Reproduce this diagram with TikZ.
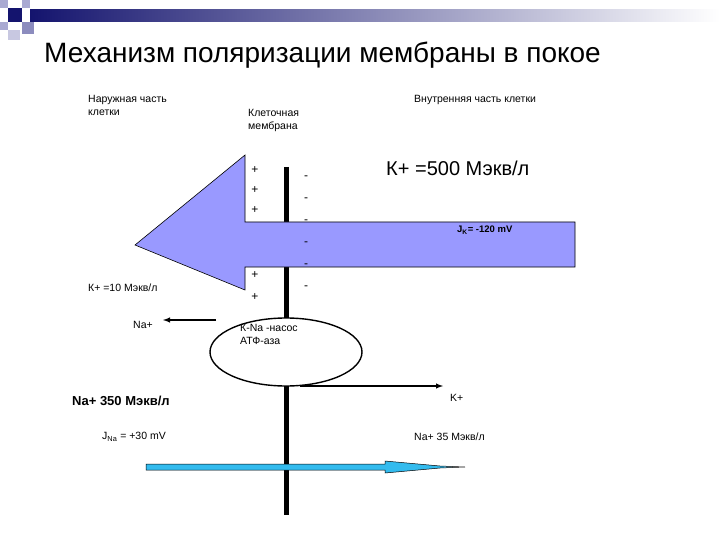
\documentclass[tikz,border=0pt]{standalone}
\usepackage{fontspec}
\setmainfont{Liberation Sans}
\usetikzlibrary{shapes.geometric}
\definecolor{navy}{RGB}{20,20,110}
\definecolor{sq1}{RGB}{170,170,210}
\definecolor{sq2}{RGB}{140,140,190}
\definecolor{sq3}{RGB}{200,200,225}
\definecolor{bigarr}{RGB}{153,153,255}
\definecolor{cyanarr}{RGB}{51,187,238}
\begin{document}
\begin{tikzpicture}[x=1pt,y=-1pt,
  lab/.style={anchor=west,inner sep=0pt,font=\fontsize{10.5}{13}\selectfont},
  pm/.style={inner sep=0pt,font=\fontsize{12}{12}\selectfont}]
\useasboundingbox (0,0) rectangle (720,540);
% decoration
\shade[left color=navy,right color=white] (30,10) rectangle (720,22);
\fill[navy] (8,8) rectangle (22,22);
\fill[sq1] (0,0) rectangle (8,8);
\fill[sq1] (22,0) rectangle (30,8);
\fill[sq1] (0,22) rectangle (8,30);
\fill[sq2] (22,22) rectangle (34,34);
\fill[sq3] (8,30) rectangle (20,40);
\node[font=\fontsize{28}{30}\selectfont,anchor=west,inner sep=0pt] (title) at (44,55) {Механизм поляризации мембраны в покое};
\node[lab,align=left,anchor=north west] (out) at (88,95) {Наружная часть\\клетки};
\node[lab,align=left,anchor=north west] (mem) at (248,109) {Клеточная\\мембрана};
\node[lab,anchor=north west] (in) at (414,95) {Внутренняя часть клетки};
% membrane
\coordinate (mt) at (286,167); \coordinate (mb) at (286,515);
\draw[line width=5pt] (mt) -- (mb);
% big arrow
\fill[bigarr] (575,222) -- (245,222) -- (245,155) -- (135,245) -- (245,290) -- (245,267) -- (575,267) -- cycle;
\draw[black,line width=0.6pt] (575,222) -- (245,222) -- (245,155) -- (135,245) -- (245,290) -- (245,267) -- (575,267) -- cycle;
\foreach \y/\n in {170/p1,190/p2,210/p3,275/p4,297/p5} \node[pm] (\n) at (255,\y) {+};
\foreach \y/\n in {178/m1,200/m2,222/m3,244/m4,266/m5,288/m6} \node[pm] (\n) at (306,\y) {-};
\node[font=\fontsize{20}{22}\selectfont,anchor=west,inner sep=0pt] (k500) at (386,168) {К+ =500 Мэкв/л};
\node[font=\bfseries\fontsize{9.5}{10}\selectfont,anchor=west,inner sep=0pt] (jk) at (457,230) {J\textsubscript{K}= -120 mV};
\node[lab] (k10) at (88,288) {К+ =10 Мэкв/л};
% pump
\node[draw,ellipse,line width=1.4pt,minimum width=152pt,minimum height=68pt,fill=white] (pump) at (286,352) {};
\node[lab,align=left,anchor=north west] (pt) at (240,324) {К-Na -насос\\АТФ-аза};
\node[lab] (na) at (133,325) {Na+};
\coordinate (naend) at (163,320);
\coordinate (nastart) at (216,320);
\draw[line width=1.4pt,-latex] (nastart) -- (naend);
\coordinate (kstart) at (300,386);
\coordinate (kend) at (443,386);
\draw[line width=1.4pt,-latex] (kstart) -- (kend);
\node[lab] (kp) at (450,398) {K+};
\node[font=\bfseries\fontsize{13}{15}\selectfont,anchor=west,inner sep=0pt] (na350) at (72,401) {Na+ 350 Мэкв/л};
\node[lab] (jna) at (102,437) {J\textsubscript{Na} = +30 mV};
\node[lab] (na35) at (414,437) {Na+ 35 Мэкв/л};
% cyan arrow
\fill[cyanarr] (146,464) -- (385,464) -- (385,461) -- (440,466) -- (455,467) -- (440,468) -- (385,473) -- (385,470) -- (146,470) -- cycle;
\draw[line width=0.5pt] (146,464) -- (385,464) -- (385,461) -- (440,466) -- (465,467) -- (440,468) -- (385,473) -- (385,470) -- (146,470) -- cycle;
\end{tikzpicture}
\end{document}
